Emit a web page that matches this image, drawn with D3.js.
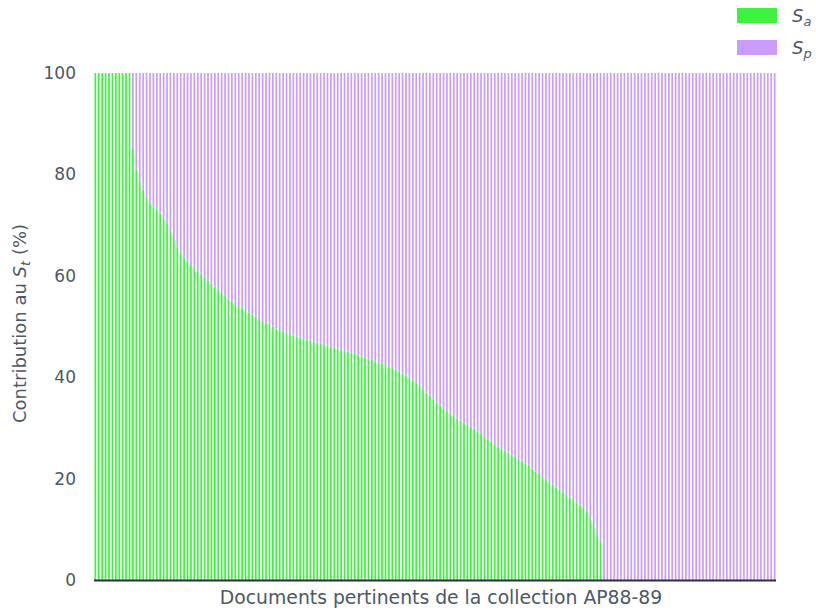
<!DOCTYPE html>
<html>
<head>
<meta charset="utf-8">
<script src="https://cdn.jsdelivr.net/npm/d3@7"></script>
<style>
  body { margin: 0; background: #fff; }
  text { font-family: "DejaVu Sans", sans-serif; fill: #4b5865; }
</style>
</head>
<body>
<div id="chart"></div>
<script>
// share of S_a in S_t for each relevant document (sorted, descending)
var sa_values = [
  100, 100, 100, 100, 100, 100, 100, 100, 100, 100, 100,
  85, 81, 78.5, 77, 75.5, 74.5, 73.5, 73, 72.3, 71.3,
  70.2, 68.8, 67.3, 65.8, 64.6, 63.6, 62.8, 62.1, 61.5, 60.9,
  60.3, 59.7, 59.1, 58.5, 57.9, 57.3, 56.6, 56, 55.4, 54.9,
  54.4, 54, 53.6, 53.2, 52.8, 52.3, 51.9, 51.5, 51.1, 50.7,
  50.3, 50, 49.6, 49.3, 49, 48.7, 48.5, 48.2, 48, 47.8,
  47.6, 47.4, 47.2, 47, 46.8, 46.6, 46.4, 46.2, 46, 45.8,
  45.6, 45.4, 45.2, 45, 44.8, 44.6, 44.4, 44.1, 43.9, 43.6,
  43.4, 43.1, 42.9, 42.6, 42.4, 42.1, 41.8, 41.5, 41.1, 40.7,
  40.3, 39.9, 39.4, 38.9, 38.3, 37.6, 37, 36.3, 35.6, 35,
  34.4, 33.8, 33.3, 32.8, 32.3, 31.8, 31.4, 31, 30.6, 30.2,
  29.8, 29.3, 28.8, 28.3, 27.8, 27.3, 26.8, 26.3, 25.9, 25.5,
  25.1, 24.7, 24.3, 23.9, 23.5, 23, 22.5, 22, 21.4, 20.9,
  20.4, 19.8, 19.3, 18.8, 18.3, 17.8, 17.3, 16.8, 16.3, 15.8,
  15.3, 14.8, 14.2, 13.4, 12.2, 10.6, 9, 7.5,
  0, 0, 0, 0, 0, 0, 0, 0, 0, 0, 0, 0, 0, 0, 0, 0, 0,
  0, 0, 0, 0, 0, 0, 0, 0, 0, 0, 0, 0, 0, 0, 0, 0, 0,
  0, 0, 0, 0, 0, 0, 0, 0, 0, 0, 0, 0, 0, 0, 0, 0, 0
]
var y_ticks = [0, 20, 40, 60, 80, 100]
var series_names = ["a", "p"]
var series_colors = ["#3ff23f", "#c99cff"]

var width = 816, height = 611
var margins = {top: 73, right: 40, bottom: 31, left: 94}
var inner_width = width - margins.left - margins.right
var inner_height = height - margins.top - margins.bottom

var svg = d3.select("#chart").append("svg")
            .attr("width", width)
            .attr("height", height)

var g = svg.append("g")
           .attr("transform", "translate(" + margins.left + "," + margins.top + ")")

// each document: S_a at the bottom, S_p on top up to 100 %
var rows = sa_values.map(function (v, i) { return {id: i, a: v, p: 100 - v} })
var stacked = d3.stack().keys(series_names)(rows)

var scalex = d3.scaleBand()
               .domain(rows.map(function (d) { return d.id }))
               .range([0, inner_width])
               .paddingInner(0.5)
               .paddingOuter(0.15)

var scaley = d3.scaleLinear()
               .domain([0, 100])
               .range([inner_height, 0])

g.selectAll("g.layer").data(stacked)
  .enter().append("g")
  .attr("class", "layer")
  .attr("fill", function (d, i) { return series_colors[i] })
  .selectAll("rect").data(function (d) { return d })
  .enter().append("rect")
  .attr("x", function (d) { return scalex(d.data.id) })
  .attr("width", scalex.bandwidth())
  .attr("y", function (d) { return scaley(d[1]) })
  .attr("height", function (d) { return scaley(d[0]) - scaley(d[1]) })

// y axis: labels only
var yaxis = g.append("g")
  .call(d3.axisLeft(scaley).tickValues(y_ticks).tickSize(0).tickPadding(18))
yaxis.select(".domain").remove()
yaxis.selectAll("text")
  .style("font-size", "17px")
  .attr("fill", "#4b5865")
  .attr("font-family", "DejaVu Sans")

// x axis: only the base line
g.append("line")
  .attr("x1", 0).attr("x2", inner_width)
  .attr("y1", inner_height + 0.5).attr("y2", inner_height + 0.5)
  .attr("stroke", "#2c3038")
  .attr("stroke-width", 2)

g.append("text")
  .attr("x", inner_width / 2 + 6)
  .attr("y", inner_height + 24)
  .attr("text-anchor", "middle")
  .style("font-size", "18.8px")
  .text("Documents pertinents de la collection AP88-89")

var ylab = svg.append("text")
  .attr("transform", "translate(26," + (margins.top + inner_height / 2 - 3) + ") rotate(-90)")
  .attr("text-anchor", "middle")
  .style("font-size", "18px")
ylab.append("tspan").text("Contribution au ")
ylab.append("tspan").attr("font-style", "italic").text("S")
ylab.append("tspan").attr("font-style", "italic").attr("dy", 4).style("font-size", "13px").text("t")
ylab.append("tspan").attr("dy", -4).text(" (%)")

// legend
var legend = svg.append("g").attr("transform", "translate(737,8)")
var items = legend.selectAll("g").data(series_names)
  .enter().append("g")
  .attr("transform", function (d, i) { return "translate(0," + (i * 32) + ")" })
items.append("rect")
  .attr("width", 40).attr("height", 15)
  .attr("fill", function (d, i) { return series_colors[i] })
var lt = items.append("text")
  .attr("x", 55).attr("y", 14)
  .style("font-size", "18px")
lt.append("tspan").attr("font-style", "italic").text("S")
lt.append("tspan").attr("font-style", "italic").attr("dy", 4).style("font-size", "13px")
  .text(function (d) { return d })
</script>
</body>
</html>
